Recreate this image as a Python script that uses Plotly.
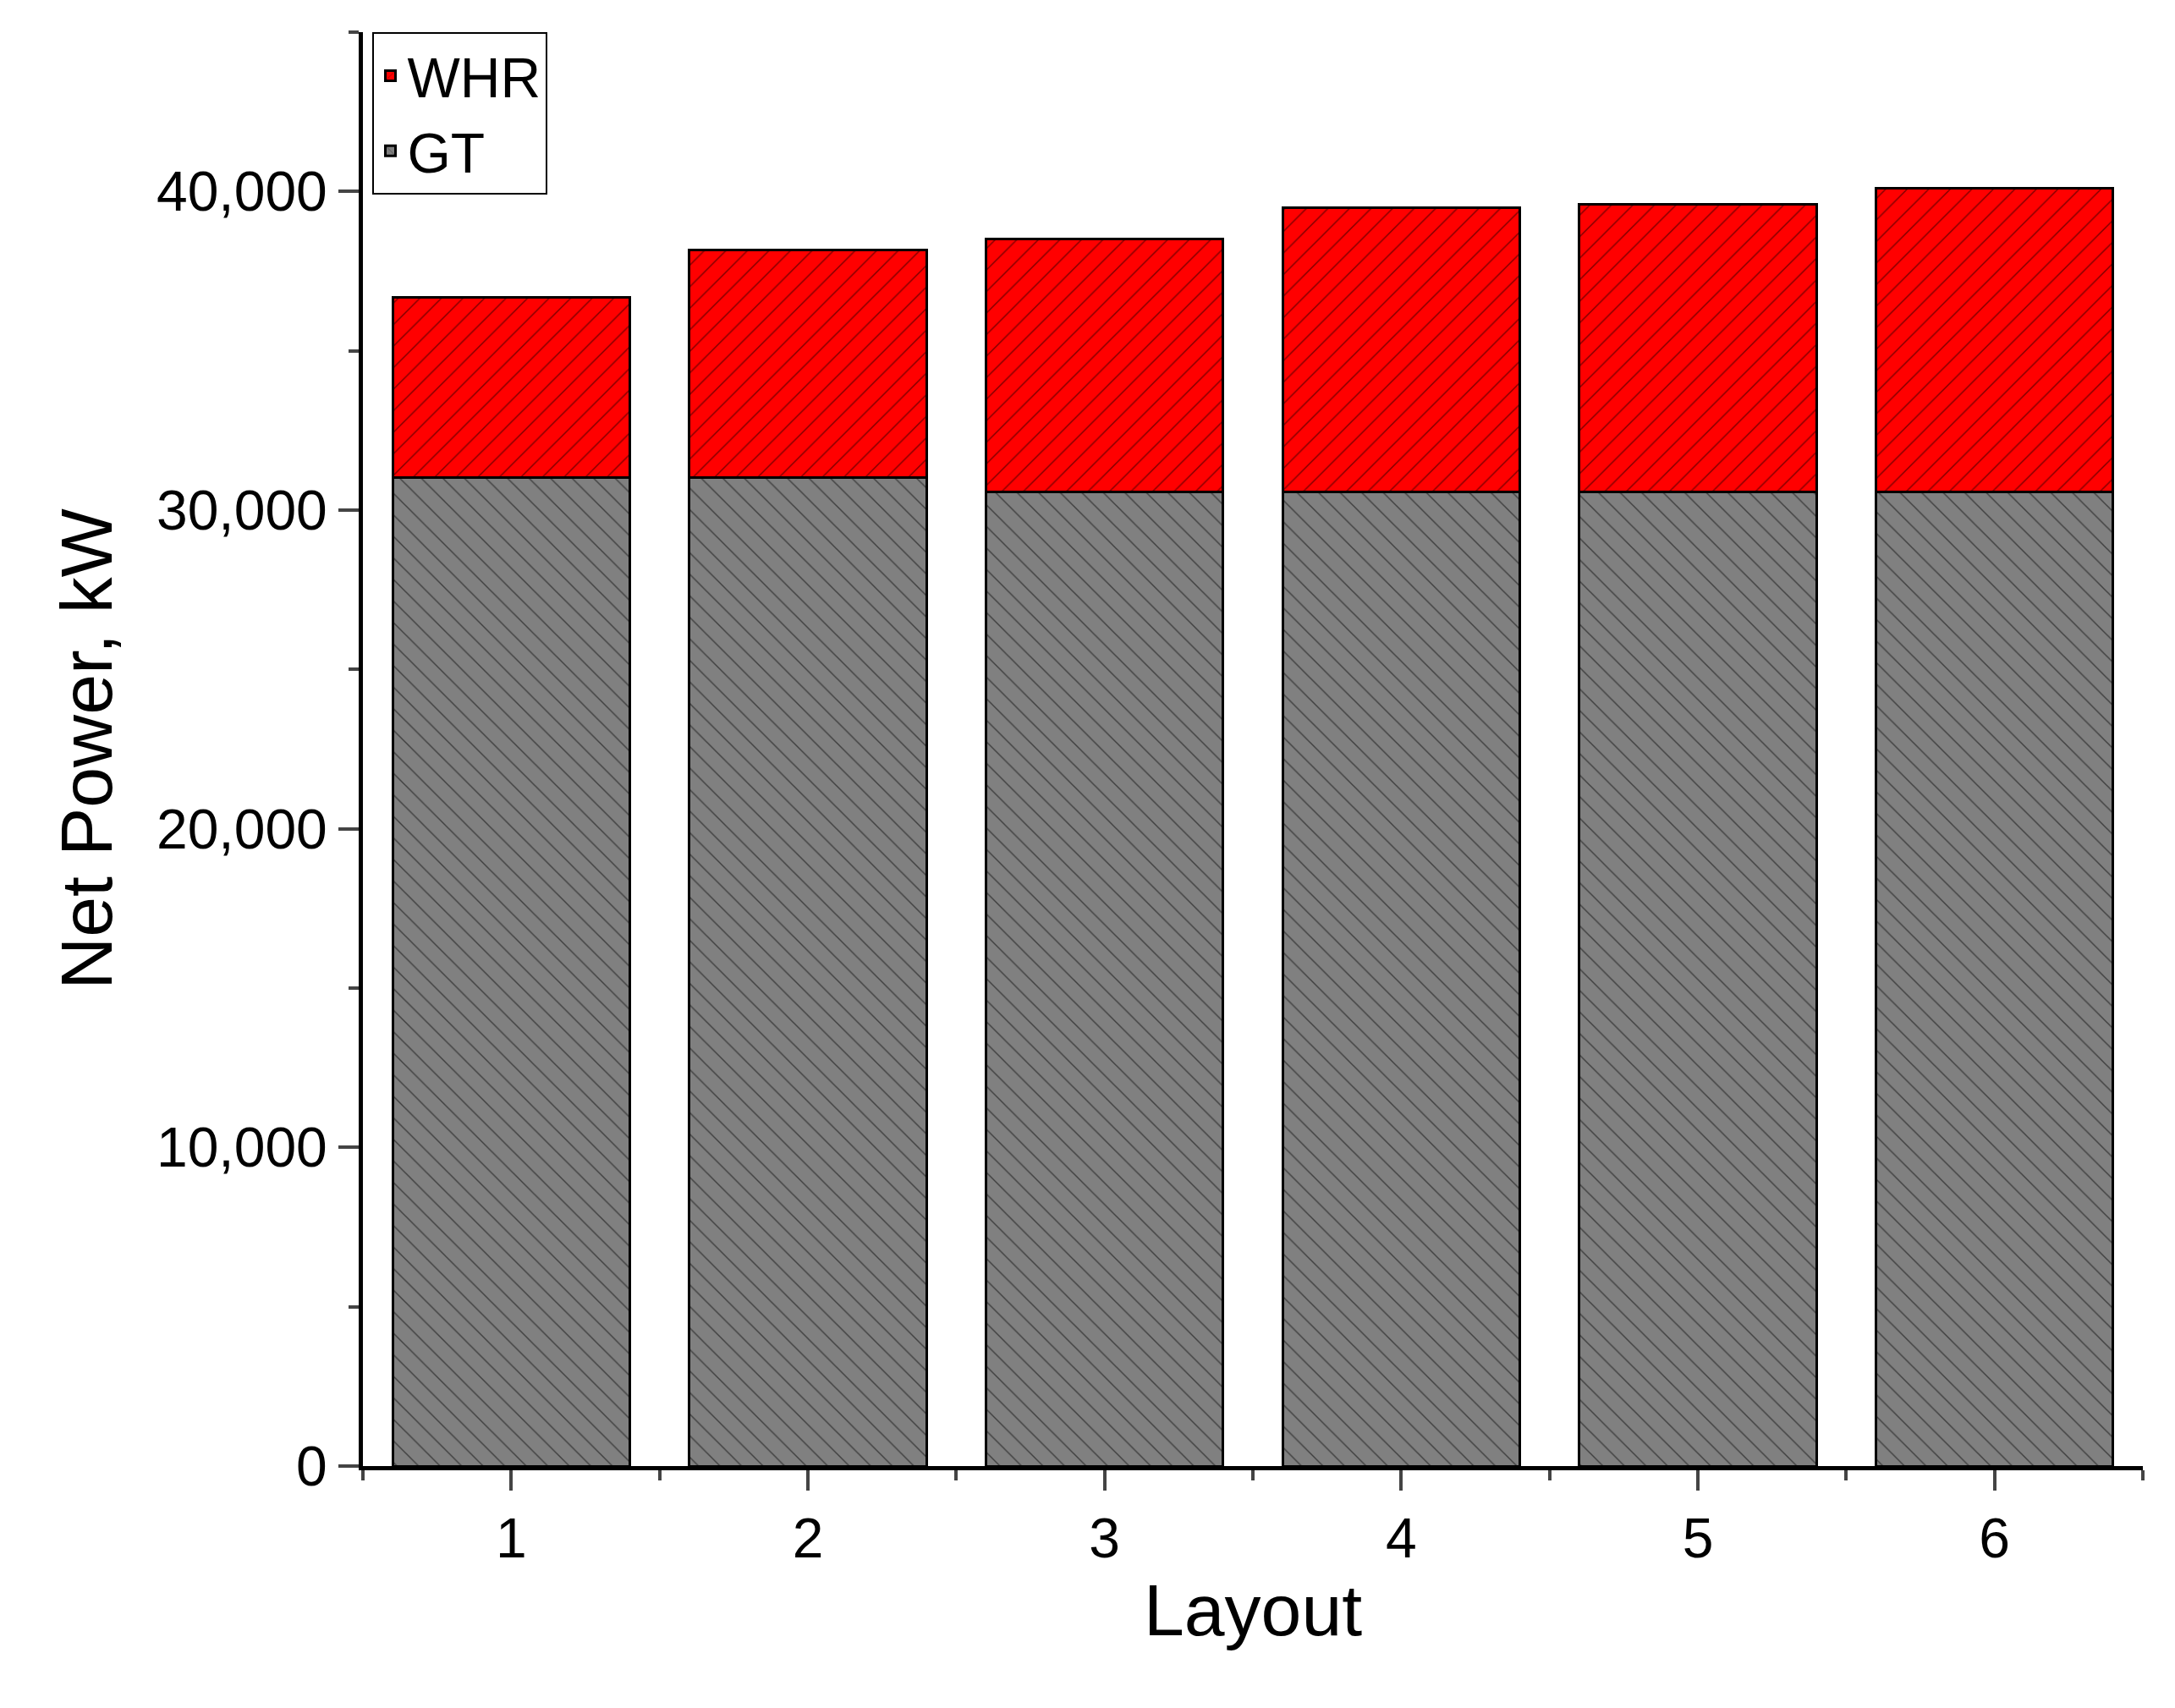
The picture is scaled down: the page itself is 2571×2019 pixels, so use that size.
import plotly.graph_objects as go

layouts = [1, 2, 3, 4, 5, 6]
gt = [31030, 31030, 30560, 30560, 30560, 30560]
whr = [5660, 7140, 7960, 8920, 9050, 9530]

fig = go.Figure()
fig.add_bar(x=layouts, y=gt, name="GT", width=0.8,
            marker=dict(color="#808080", line=dict(color="black", width=3),
                        pattern=dict(shape="\\", fgcolor="black", size=18, solidity=0.08)))
fig.add_bar(x=layouts, y=whr, name="WHR", width=0.8,
            marker=dict(color="#ff0000", line=dict(color="black", width=3),
                        pattern=dict(shape="/", fgcolor="black", size=18, solidity=0.08)))
fig.update_layout(
    barmode="stack", width=2571, height=2019, plot_bgcolor="white", paper_bgcolor="white",
    margin=dict(l=421, r=46, t=30, b=294),
    font=dict(family="Liberation Sans", size=66, color="black"),
    legend=dict(x=0.005, y=1.0, xanchor="left", yanchor="top", traceorder="reversed",
                bordercolor="black", borderwidth=2, font=dict(size=66)),
    xaxis=dict(range=[0.5, 6.5], tickvals=layouts, ticks="outside", ticklen=24, tickwidth=4,
               showline=True, linecolor="black", linewidth=5, showgrid=False,
               minor=dict(tickvals=[0.5,1.5,2.5,3.5,4.5,5.5,6.5], ticks="outside", ticklen=12, tickwidth=4),
               title=dict(text="Layout", font=dict(size=86), standoff=20)),
    yaxis=dict(range=[0, 45000], tickvals=[0,10000,20000,30000,40000], tickformat=",",
               ticks="outside", ticklen=24, tickwidth=4, showline=True, linecolor="black", linewidth=5,
               showgrid=False, zeroline=False,
               minor=dict(dtick=5000, ticks="outside", ticklen=12, tickwidth=4),
               title=dict(text="Net Power, kW", font=dict(size=86), standoff=25)),
)
fig.write_html("out.html")
